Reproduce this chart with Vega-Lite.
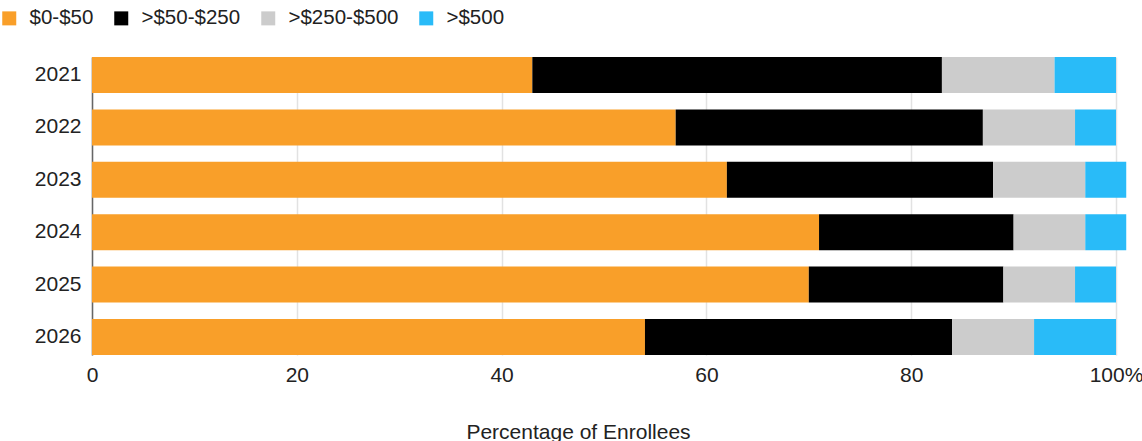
{
  "$schema": "https://vega.github.io/schema/vega-lite/v6.json",
  "autosize": "none",
  "width": 1024,
  "height": 298,
  "padding": {"left": 92, "top": 57, "right": 26, "bottom": 86},
  "background": "white",
  "config": {
    "font": "Liberation Sans",
    "view": {"stroke": null}
  },
  "data": {
    "values": [
      {"year": "2021", "band": "$0-$50", "k": 1, "pct": 43},
      {"year": "2021", "band": ">$50-$250", "k": 2, "pct": 40},
      {"year": "2021", "band": ">$250-$500", "k": 3, "pct": 11},
      {"year": "2021", "band": ">$500", "k": 4, "pct": 6},
      {"year": "2022", "band": "$0-$50", "k": 1, "pct": 57},
      {"year": "2022", "band": ">$50-$250", "k": 2, "pct": 30},
      {"year": "2022", "band": ">$250-$500", "k": 3, "pct": 9},
      {"year": "2022", "band": ">$500", "k": 4, "pct": 4},
      {"year": "2023", "band": "$0-$50", "k": 1, "pct": 62},
      {"year": "2023", "band": ">$50-$250", "k": 2, "pct": 26},
      {"year": "2023", "band": ">$250-$500", "k": 3, "pct": 9},
      {"year": "2023", "band": ">$500", "k": 4, "pct": 4},
      {"year": "2024", "band": "$0-$50", "k": 1, "pct": 71},
      {"year": "2024", "band": ">$50-$250", "k": 2, "pct": 19},
      {"year": "2024", "band": ">$250-$500", "k": 3, "pct": 7},
      {"year": "2024", "band": ">$500", "k": 4, "pct": 4},
      {"year": "2025", "band": "$0-$50", "k": 1, "pct": 70},
      {"year": "2025", "band": ">$50-$250", "k": 2, "pct": 19},
      {"year": "2025", "band": ">$250-$500", "k": 3, "pct": 7},
      {"year": "2025", "band": ">$500", "k": 4, "pct": 4},
      {"year": "2026", "band": "$0-$50", "k": 1, "pct": 54},
      {"year": "2026", "band": ">$50-$250", "k": 2, "pct": 30},
      {"year": "2026", "band": ">$250-$500", "k": 3, "pct": 8},
      {"year": "2026", "band": ">$500", "k": 4, "pct": 8}
    ]
  },
  "mark": {"type": "bar", "clip": false},
  "encoding": {
    "y": {
      "field": "year",
      "type": "nominal",
      "scale": {"paddingInner": 0.313, "paddingOuter": 0},
      "axis": {
        "title": null,
        "ticks": false,
        "labelPadding": 11,
        "labelFontSize": 21,
        "labelColor": "#222222",
        "domainColor": "#666666",
        "domainWidth": 1.5,
        "grid": false
      }
    },
    "x": {
      "field": "pct",
      "type": "quantitative",
      "stack": "zero",
      "scale": {"domain": [0, 100], "nice": false, "clamp": false},
      "axis": {
        "values": [0, 20, 40, 60, 80, 100],
        "labelExpr": "datum.value == 100 ? '100%' : datum.label",
        "title": "Percentage of Enrollees",
        "titleFontSize": 21,
        "titleFontWeight": "normal",
        "titleColor": "#222222",
        "titleX": 486,
        "titleY": 83,
        "titleBaseline": "alphabetic",
        "titleAlign": "center",
        "labelFontSize": 21,
        "labelColor": "#222222",
        "labelPadding": 9,
        "labelFlush": false,
        "ticks": false,
        "domain": false,
        "grid": true,
        "gridColor": "#e2e2e2",
        "gridWidth": 1.5
      }
    },
    "color": {
      "field": "band",
      "type": "nominal",
      "scale": {
        "domain": ["$0-$50", ">$50-$250", ">$250-$500", ">$500"],
        "range": ["#F99F29", "#000000", "#CCCCCC", "#29BBF8"]
      },
      "legend": {
        "title": null,
        "orient": "none",
        "legendX": -93,
        "legendY": -49,
        "direction": "horizontal",
        "symbolType": "square",
        "symbolSize": 196,
        "symbolStrokeWidth": 0,
        "labelFontSize": 20.5,
        "labelColor": "#222222",
        "labelOffset": 10,
        "columnPadding": 17
      }
    },
    "order": {"field": "k", "type": "quantitative"}
  }
}
